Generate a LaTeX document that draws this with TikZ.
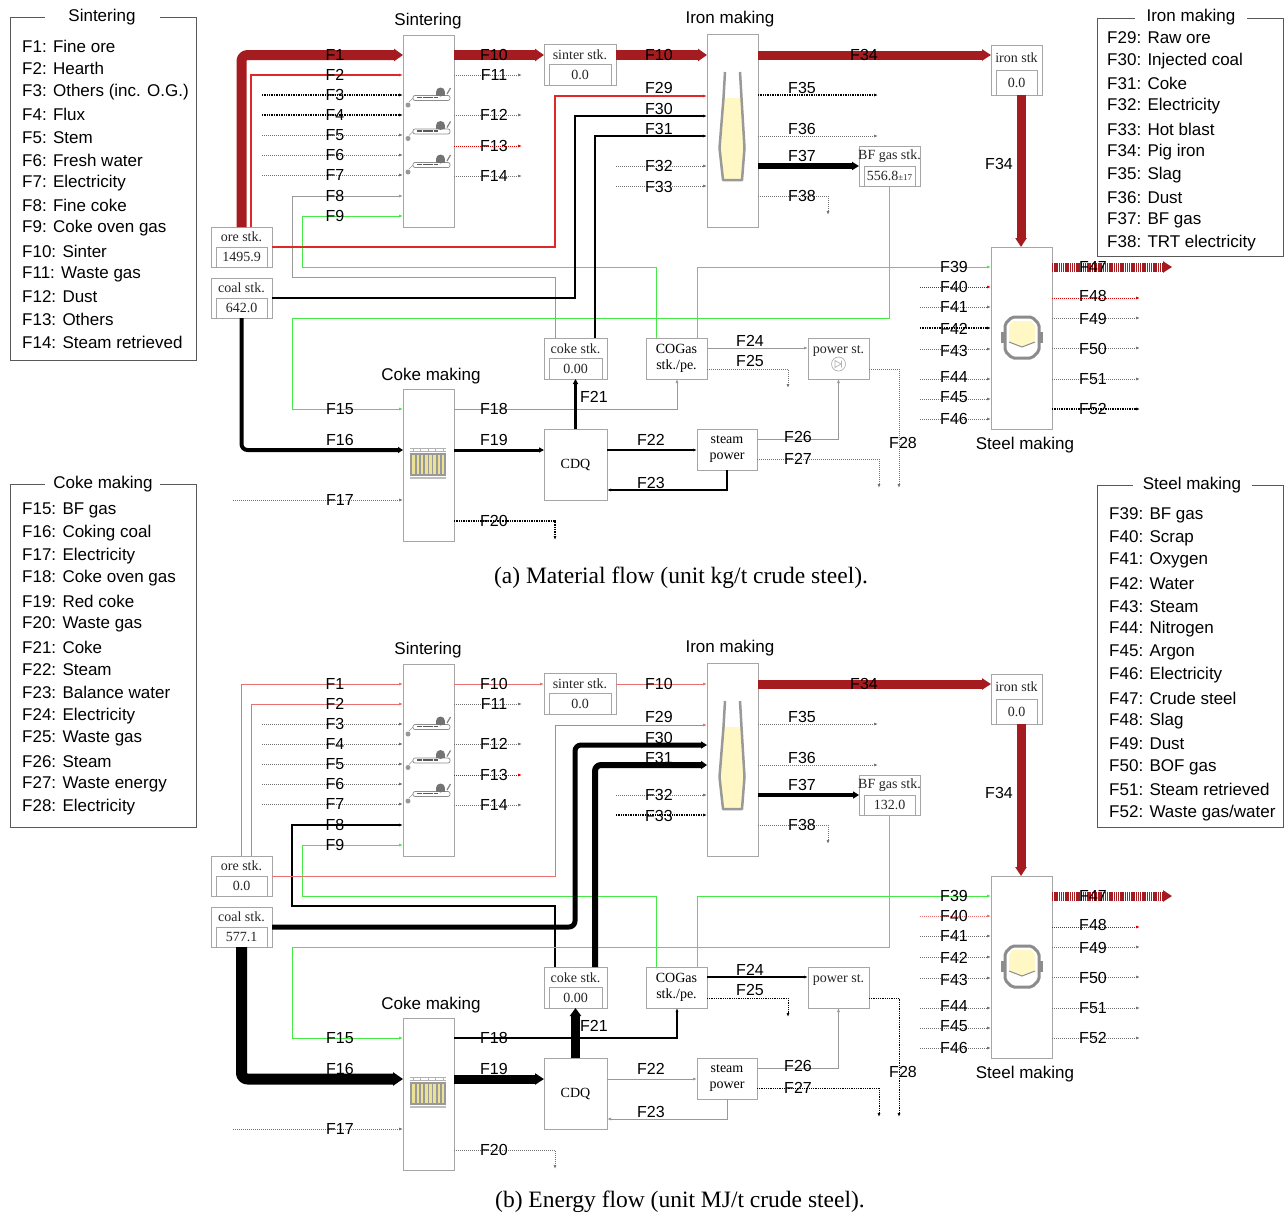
\documentclass[tikz,border=0pt]{standalone}
\usepackage{fontspec}
\setmainfont{Liberation Serif}
\newfontfamily\sansfam{Liberation Sans}
\usetikzlibrary{arrows.meta,calc}
\definecolor{dred}{RGB}{165,28,32}
\definecolor{mred}{RGB}{225,40,40}
\definecolor{lred}{RGB}{232,112,112}
\definecolor{lgrn}{RGB}{70,232,70}
\definecolor{pale}{RGB}{255,247,196}
\definecolor{cyel}{RGB}{236,226,150}
\newcommand\labfont{\sansfam\fontsize{16}{18}\selectfont}
\newcommand\legfont{\sansfam\fontsize{17}{19}\selectfont}
\newcommand\stkfont{\fontsize{14}{16}\selectfont}
\newcommand\capfont{\fontsize{23.5}{26}\selectfont}
\tikzset{
  box/.style={draw=black!35, line width=0.9pt, fill=white, inner sep=0pt, outer sep=0pt},
  ibox/.style={draw=black!35, line width=0.8pt},
  lab/.style={font=\labfont, inner sep=0pt},
  ttl/.style={font=\legfont, inner sep=0pt},
  stxt/.style={font=\stkfont, inner sep=0pt, text=black!85},
  legline/.style={draw=black!65, line width=0.9pt},
  tipA/.style={-{Latex[length=4pt,width=3pt]}},
  gln/.style={tipA, draw=black!40, line width=0.8pt},
  kln/.style={tipA, draw=black, line width=#1},
  kln/.default=1.2pt,
  rln/.style={tipA, draw=mred, line width=1.3pt},
  pln/.style={tipA, draw=lred, line width=0.9pt},
  grn/.style={tipA, draw=lgrn, line width=0.9pt},
  gdt/.style={tipA, draw=black!55, line width=0.8pt, dash pattern=on 0.8pt off 1.2pt},
  kdt/.style={tipA, draw=black, line width=1.5pt, dash pattern=on 0.9pt off 0.8pt},
  kdtt/.style={tipA, draw=black, line width=1pt, dash pattern=on 0.8pt off 1pt},
  rdt/.style={tipA, draw=red!85!black, line width=0.9pt, dash pattern=on 0.8pt off 1.2pt},
  fat/.style n args={4}{draw=#1, line width=#2, rounded corners=6pt, line join=round, -{Triangle[length=#3 0 0, width=#4 0 0]}},
  stripe/.style={draw=dred, line width=9pt, dash pattern=on 1.3pt off 0.9pt, -{Triangle[length=9pt 0 0, width=11pt 0 0]}},
  % panel (a) flow styles
  flow1/.style={fat={dred}{10pt}{9pt}{12pt}},
  flow2/.style={rln}, flow3/.style={kdt}, flow4/.style={kdt},
  flow5/.style={gdt}, flow6/.style={gdt}, flow7/.style={gdt},
  flow8/.style={gln}, flow9/.style={grn},
  flow10/.style={fat={dred}{10pt}{9pt}{12pt}},
  flow11/.style={gdt}, flow12/.style={gdt}, flow13/.style={rdt}, flow14/.style={gdt},
  flow15/.style={grn},
  flow16/.style={fat={black}{4pt}{5pt}{6pt}},
  flow17/.style={gdt}, flow18/.style={gln},
  flow19/.style={fat={black}{3pt}{5pt}{5pt}},
  flow20/.style={kdt},
  flow21/.style={fat={black}{3.5pt}{5pt}{5pt}},
  flow22/.style={kln=1.2pt}, flow23/.style={kln=1.4pt},
  flow24/.style={gln}, flow25/.style={gdt}, flow26/.style={gln},
  flow27/.style={gdt}, flow28/.style={gdt},
  flow29/.style={rln}, flow30/.style={kln=1.3pt}, flow31/.style={kln=2pt},
  flow32/.style={gdt}, flow33/.style={gdt},
  flow34/.style={fat={dred}{9pt}{9pt}{11pt}},
  flow35/.style={kdt}, flow36/.style={gdt},
  flow37/.style={fat={black}{6pt}{7pt}{8pt}},
  flow38/.style={gdt}, flow39/.style={grn}, flow40/.style={rdt},
  flow41/.style={gdt}, flow42/.style={kdt}, flow43/.style={gdt},
  flow44/.style={gdt}, flow45/.style={gdt}, flow46/.style={gdt},
  flow47/.style={stripe}, flow48/.style={rdt},
  flow49/.style={gdt}, flow50/.style={gdt}, flow51/.style={gdt}, flow52/.style={kdt},
}
% stock box: name, cx, cy, w, h, label, value
\newcommand\stk[7]{%
  \node[box, minimum width=#4pt, minimum height=#5pt] (#1) at (#2,#3) {};
  \draw[ibox] ($(#1.west)+(5,0)$) rectangle ($(#1.south east)+(-5,0)$);
  \node[stxt] at ($(#1.north)!0.5!(#1.center)$) {#6};
  \node[stxt] at ($(#1.center)!0.5!(#1.south)$) {#7};
}
\newcommand\sinticon[2]{%
  \begin{scope}[shift={(#1,#2)}]
    \draw[black!45, line width=0.7pt, rounded corners=2pt] (0,-2.5) rectangle (37,2.5);
    \draw[black!65, line width=1.6pt, dash pattern=on 0.5pt off 0.6pt] (4,-0.5) -- (24,-0.5);
    \fill[black!55] (23,-2.5) rectangle (32,-6);
    \fill[black!55] (27.5,-6) circle (4.5);
    \draw[black!50, line width=1.2pt] (34,-4) -- (37.5,-10);
    \draw[black!40, line width=0.6pt] (0,0) -- (-4,4);
    \fill[black!40] (-5,7) circle (2.5);
  \end{scope}
}
\newcommand\procs[3]{%
  \node[box, minimum width=51pt, minimum height=192pt] (sin) at (428.5,131) {};
  \node[box, minimum width=51pt, minimum height=193pt] (iron) at (732.5,130.5) {};
  \node[box, minimum width=61pt, minimum height=182pt] (steel) at (1021.5,338) {};
  \node[box, minimum width=51pt, minimum height=152pt] (coke) at (428.5,465) {};
  \node[box, minimum width=63pt, minimum height=71pt, font=\stkfont] (cdq) at (575.5,464.5) {CDQ};
  \node[box, minimum width=60pt, minimum height=41pt, font=\stkfont, align=center] (steam) at (727,449.5) {steam\\power};
  \node[box, minimum width=61pt, minimum height=41pt, font=\stkfont, align=center] (cogas) at (676.5,358.5) {COGas\\stk./pe.};
  \node[box, minimum width=61pt, minimum height=41pt] (power) at (838.5,358.5) {};
  \node[stxt] at (838.5,351) {power st.};
  \stk{sinstk}{580}{64.5}{72}{41}{sinter stk.}{0.0}
  \stk{ironstk}{1016.5}{70}{51}{50}{iron stk}{0.0}
  \stk{bfstk}{889.5}{166}{61}{40}{BF gas stk.}{#3}
  \stk{orestk}{241.5}{247}{61}{40}{ore stk.}{#1}
  \stk{coalstk}{241.5}{298}{61}{40}{coal stk.}{#2}
  \stk{cokestk}{575.5}{358.5}{63}{41}{coke stk.}{0.00}
  \node[ttl] at (428,21) {Sintering};
  \node[ttl] at (730,19) {Iron making};
  \node[ttl] at (431,376) {Coke making};
  \node[ttl] at (1025,445) {Steel making};
  % sintering icons
  \sinticon{413}{98}\sinticon{413}{131.5}\sinticon{413}{165}
  % blast furnace
  \fill[pale] (723.5,98) -- (719.5,148) -- (723,180) -- (742,180) -- (744.5,148) -- (741.5,98) -- cycle;
  \draw[black!40, line width=2.5pt, line join=round] (725,72) -- (723.5,98) -- (719.5,148) -- (723,180) -- (742,180) -- (744.5,148) -- (741.5,98) -- (740,72);
  % converter
  \fill[black!45] (1001,332) rectangle (1005,343);
  \fill[black!45] (1039,332) rectangle (1043,343);
  \draw[black!45, line width=3pt, rounded corners=2pt, fill=white] (1012,317) -- (1032,317) -- (1039,324) -- (1039,351) -- (1032,358) -- (1012,358) -- (1005,351) -- (1005,324) -- cycle;
  \fill[pale] (1013,321) -- (1031,321) -- (1035,326) -- (1035,342) -- (1022,347) -- (1009,342) -- (1009,326) -- cycle;
  \draw[black!45, line width=1pt] (1009,342) -- (1022,347) -- (1035,342);
  % coke oven
  \fill[black!40] (410,453) rectangle (446,476);
  \foreach \i in {0,...,7} \fill[cyel] ({412.3+4.2*\i},455) rectangle ++(2.6,19);
  \draw[black!30, line width=0.6pt] (410,448) -- (446,448) (410,451) -- (446,451);
  \foreach \i in {0,...,4} \draw[black!30, line width=0.6pt] ({413+7.5*\i},448) -- ++(0,3);
  \draw[black!25, line width=1.2pt] (410,478) -- (446,478);
}
\newcommand\flowsall{%
  \draw[flow1] (orestk.north) |- (sin.west |- 0,55);
  \draw[flow2] (orestk.north -| 251,0) |- (sin.west |- 0,75);
  \draw[flow3] (262,95) -- (sin.west |- 0,95);
  \draw[flow4] (262,115) -- (sin.west |- 0,115);
  \draw[flow5] (262,135) -- (sin.west |- 0,135);
  \draw[flow6] (262,155) -- (sin.west |- 0,155);
  \draw[flow7] (262,175) -- (sin.west |- 0,175);
  \draw[flow8] (cokestk.north -| 555,0) |- (292,277) |- (sin.west |- 0,196);
  \draw[flow9] (cogas.north -| 656,0) |- (302,267) |- (sin.west |- 0,216);
  \draw[flow10] (sin.east |- 0,55) -- (sinstk.west |- 0,55);
  \draw[flow10] (sinstk.east |- 0,55) -- (iron.west |- 0,55);
  \draw[flow11] (sin.east |- 0,75) -- (522,75);
  \draw[flow12] (sin.east |- 0,115) -- (522,115);
  \draw[flow13] (sin.east |- 0,146) -- (522,146);
  \draw[flow14] (sin.east |- 0,176) -- (522,176);
  \draw[flow15] (bfstk.south -| 889,0) |- (292,318) |- (coke.west |- 0,409);
  \draw[flow16] (coalstk.south) |- (coke.west |- 0,450);
  \draw[flow17] (233,500) -- (coke.west |- 0,500);
  \draw[flow18] (coke.east |- 0,409) -| (cogas.south -| 677,0);
  \draw[flow19] (coke.east |- 0,450) -- (cdq.west |- 0,450);
  \draw[flow20] (coke.east |- 0,521) -| (555,540);
  \draw[flow21] (cdq.north) -- (cokestk.south);
  \draw[flow22] (cdq.east |- 0,450) -- (steam.west |- 0,450);
  \draw[flow23] (steam.south) |- (cdq.east |- 0,490);
  \draw[flow24] (cogas.east |- 0,348) -- (power.west |- 0,348);
  \draw[flow25] (cogas.east |- 0,369) -| (788,388);
  \draw[flow26] (steam.east |- 0,439) -| (power.south);
  \draw[flow27] (steam.east |- 0,459) -| (879,488);
  \draw[flow28] (power.east |- 0,369) -| (899,488);
  \draw[flow29] (orestk.east) -| (555,96) -- (iron.west |- 0,96);
  \draw[flow30] (coalstk.east) -| (575,116) -- (iron.west |- 0,116);
  \draw[flow31] (cokestk.north -| 595,0) |- (iron.west |- 0,136);
  \draw[flow32] (616,166) -- (iron.west |- 0,166);
  \draw[flow33] (616,186) -- (iron.west |- 0,186);
  \draw[flow34] (iron.east |- 0,55) -- (ironstk.west |- 0,55);
  \draw[flow34] (ironstk.south -| 1021,0) -- (steel.north -| 1021,0);
  \draw[flow35] (iron.east |- 0,95) -- (878,95);
  \draw[flow36] (iron.east |- 0,136) -- (878,136);
  \draw[flow37] (iron.east |- 0,166) -- (bfstk.west);
  \draw[flow38] (iron.east |- 0,196) -| (828,215);
  \draw[flow39] (cogas.north -| 697,0) |- (steel.west |- 0,267);
  \draw[flow40] (920,287) -- (steel.west |- 0,287);
  \draw[flow41] (920,307) -- (steel.west |- 0,307);
  \draw[flow42] (920,328) -- (steel.west |- 0,328);
  \draw[flow43] (920,349) -- (steel.west |- 0,349);
  \draw[flow44] (920,379) -- (steel.west |- 0,379);
  \draw[flow45] (920,399) -- (steel.west |- 0,399);
  \draw[flow46] (920,419) -- (steel.west |- 0,419);
  \draw[flow47] (steel.east |- 0,267) -- (1172,267);
  \draw[flow48] (steel.east |- 0,298) -- (1140,298);
  \draw[flow49] (steel.east |- 0,318) -- (1140,318);
  \draw[flow50] (steel.east |- 0,348) -- (1140,348);
  \draw[flow51] (steel.east |- 0,379) -- (1140,379);
  \draw[flow52] (steel.east |- 0,409) -- (1140,409);
}
\newcommand\flowlabels{%
  \foreach \n/\x/\y in {1/335/55,2/335/75,3/335/95,4/335/115,5/335/135,6/335/155,7/335/175,8/335/196,9/335/216,
    10/494/55,10/659/55,11/494/75,12/494/115,13/494/146,14/494/176,
    15/340/409,16/340/440,17/340/500,18/494/409,19/494/440,20/494/521,21/594/397,22/651/440,23/651/483,
    24/750/341,25/750/361,26/798/437,27/798/459,28/903/443,
    29/659/88,30/659/109,31/659/129,32/659/166,33/659/187,34/864/55,34/999/164,35/802/88,36/802/129,37/802/156,38/802/196,
    39/954/267,40/954/287,41/954/307,42/954/329,43/954/351,44/954/377,45/954/397,46/954/419,
    47/1093/267,48/1093/296,49/1093/319,50/1093/349,51/1093/379,52/1093/409}
    \node[lab] at (\x,\y) {F\n};
}
\begin{document}
\begin{tikzpicture}[x=1pt,y=-1pt]
\useasboundingbox (0,0) rectangle (1285,1216);
\fill[white] (0,0) rectangle (1285,1216);
% ---------- legends
\draw[legline] (45,17) -- (10,17) -- (10,360) -- (196,360) -- (196,17) -- (160,17);
\node[ttl] at (102,17) {Sintering};
\foreach \itm [count=\k from 0] in {F1: Fine ore,F2: Hearth,F3: Others (inc. O.G.),F4: Flux,F5: Stem,F6: Fresh water,F7: Electricity,F8: Fine coke,F9: Coke oven gas,F10: Sinter,F11: Waste gas,F12: Dust,F13: Others,F14: Steam retrieved}
  \node[ttl, anchor=west] at (22,{46+22.8*\k}) {\itm};
\draw[legline] (1135,18) -- (1097,18) -- (1097,256) -- (1283,256) -- (1283,18) -- (1247,18);
\node[ttl] at (1191,17) {Iron making};
\foreach \itm [count=\k from 0] in {F29: Raw ore,F30: Injected coal,F31: Coke,F32: Electricity,F33: Hot blast,F34: Pig iron,F35: Slag,F36: Dust,F37: BF gas,F38: TRT electricity}
  \node[ttl, anchor=west] at (1107,{38+22.8*\k}) {\itm};
\draw[legline] (45,484) -- (10,484) -- (10,827) -- (196,827) -- (196,484) -- (160,484);
\node[ttl] at (103,484) {Coke making};
\foreach \itm [count=\k from 0] in {F15: BF gas,F16: Coking coal,F17: Electricity,F18: Coke oven gas,F19: Red coke,F20: Waste gas,F21: Coke,F22: Steam,F23: Balance water,F24: Electricity,F25: Waste gas,F26: Steam,F27: Waste energy,F28: Electricity}
  \node[ttl, anchor=west] at (22,{510+22.85*\k}) {\itm};
\draw[legline] (1133,485) -- (1097,485) -- (1097,827) -- (1283,827) -- (1283,485) -- (1252,485);
\node[ttl] at (1192,485) {Steel making};
\foreach \itm [count=\k from 0] in {F39: BF gas,F40: Scrap,F41: Oxygen,F42: Water,F43: Steam,F44: Nitrogen,F45: Argon,F46: Electricity,F47: Crude steel,F48: Slag,F49: Dust,F50: BOF gas,F51: Steam retrieved,F52: Waste gas/water}
  \node[ttl, anchor=west] at (1109,{515+22.9*\k}) {\itm};
% ---------- panel (a)
\begin{scope}[name prefix=a-]
  \procs{1495.9}{642.0}{556.8{\fontsize{9}{10}\selectfont ±17}}
  \draw[black!30, line width=0.7pt] (838.5,364) circle (7);
  \draw[black!30, line width=0.7pt] (835,360.5) -- (835,367.5) -- (841,364) -- cycle (841.5,360.5) -- (841.5,367.5);
  \flowsall
  \flowlabels
\end{scope}
\node[font=\capfont] at (681,578) {(a) Material flow (unit kg/t crude steel).};
% ---------- panel (b)
\begin{scope}[shift={(0,629)}, name prefix=b-,
  flow1/.style={pln}, flow2/.style={pln}, flow3/.style={gdt}, flow4/.style={gdt},
  flow8/.style={kln=1.5pt}, flow10/.style={pln},
  flow16/.style={fat={black}{11pt}{10pt}{13pt}},
  flow18/.style={kln=1.5pt},
  flow19/.style={fat={black}{9pt}{9pt}{11pt}},
  flow20/.style={gdt},
  flow21/.style={fat={black}{9pt}{8pt}{11pt}},
  flow22/.style={gln}, flow23/.style={gln}, flow24/.style={kln=1.1pt},
  flow25/.style={kdtt}, flow27/.style={kdtt}, flow28/.style={kdtt},
  flow29/.style={pln},
  flow30/.style={fat={black}{5pt}{6pt}{7pt}},
  flow31/.style={fat={black}{6pt}{6pt}{8pt}},
  flow33/.style={kdt}, flow35/.style={gdt},
  flow37/.style={fat={black}{4.5pt}{6pt}{7pt}},
  flow40/.style={tipA, draw=lred, line width=0.8pt, dash pattern=on 0.8pt off 1.2pt},
  flow42/.style={gdt}, flow52/.style={gdt}]
  \procs{0.0}{577.1}{132.0}
  \flowsall
  \flowlabels
\end{scope}
\node[font=\capfont] at (680,1202) {(b) Energy flow (unit MJ/t crude steel).};
\end{tikzpicture}
\end{document}
